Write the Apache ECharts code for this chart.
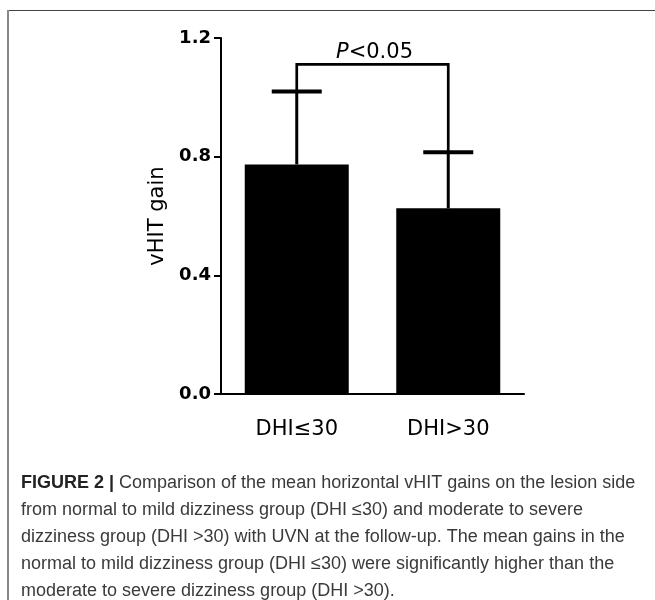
<!DOCTYPE html>
<html>
<head>
<meta charset="utf-8">
<script src="https://cdn.jsdelivr.net/npm/echarts@6/dist/echarts.min.js"></script>
<style>
html,body{margin:0;padding:0;background:#fff;}
#chart{width:655px;height:600px;}
</style>
</head>
<body>
<div id="chart"></div>
<script>
var categories = ['DHI≤30', 'DHI>30'];
var meanGain = [0.774, 0.626];
var errorTop = [1.02, 0.815];
var bracketLevel = 1.111;
var pLabel = 'P<0.05';
var yTicks = [0.0, 0.4, 0.8, 1.2];
var captionLines = [
  'from normal to mild dizziness group (DHI ≤30) and moderate to severe',
  'dizziness group (DHI >30) with UVN at the follow-up. The mean gains in the',
  'normal to mild dizziness group (DHI ≤30) were significantly higher than the',
  'moderate to severe dizziness group (DHI >30).'
];
var captionHead = 'FIGURE 2 |';
var captionFirst = ' Comparison of the mean horizontal vHIT gains on the lesion side';

var chart = echarts.init(document.getElementById('chart'), null, {renderer: 'canvas'});

var capFont = '"Liberation Sans Narrow", "Liberation Sans", Arial, sans-serif';
var dvs = '"DejaVu Sans", Verdana, sans-serif';
var graphics = [
  {type: 'line', shape: {x1: 7, y1: 10.5, x2: 655, y2: 10.5}, style: {stroke: '#444', lineWidth: 1}, silent: true},
  {type: 'line', shape: {x1: 8, y1: 10, x2: 8, y2: 600}, style: {stroke: '#888', lineWidth: 2}, silent: true},
  {type: 'text', left: 21, top: 474, style: {
    text: '{b|' + captionHead + '}{n|' + captionFirst + '}',
    rich: {
      b: {fontFamily: capFont, fontWeight: 'bold', fontSize: 18, fill: '#222'},
      n: {fontFamily: capFont, fontSize: 18, fill: '#3a3a3a'}
    }
  }}
];
captionLines.forEach(function (t, i) {
  graphics.push({type: 'text', left: 21, top: 501 + i * 27, style: {
    text: t, fontFamily: capFont, fontSize: 18, fill: '#3a3a3a'
  }});
});

chart.setOption({
  animation: false,
  backgroundColor: '#fff',
  grid: {left: 221, right: 131, top: 38, bottom: 206, containLabel: false},
  xAxis: {
    type: 'category',
    data: categories,
    axisLine: {lineStyle: {color: '#000', width: 2}},
    axisTick: {alignWithLabel: true, length: 9, lineStyle: {color: '#000', width: 2}},
    axisLabel: {color: '#000', fontSize: 21, fontFamily: dvs, margin: 25}
  },
  yAxis: {
    type: 'value', min: 0, max: 1.2, interval: 0.4,
    name: 'vHIT gain', nameLocation: 'middle', nameRotate: 90, nameGap: 53,
    nameTextStyle: {color: '#000', fontSize: 21, fontFamily: dvs},
    axisLine: {show: true, lineStyle: {color: '#000', width: 2}},
    axisTick: {show: true, length: 7, lineStyle: {color: '#000', width: 2}},
    splitLine: {show: false},
    axisLabel: {color: '#000', fontSize: 18, fontWeight: 'bold', fontFamily: dvs, margin: 10,
      formatter: function (v) { return v.toFixed(1); }}
  },
  series: [
    {type: 'bar', data: meanGain, barWidth: 104, itemStyle: {color: '#000'}, z: 2},
    {
      type: 'custom', z: 3,
      data: categories.map(function (c, i) { return [i, meanGain[i], errorTop[i]]; }),
      renderItem: function (params, api) {
        var x = api.value(0);
        var p0 = api.coord([x, api.value(1)]);
        var p1 = api.coord([x, api.value(2)]);
        var cw = 25;
        return {type: 'group', children: [
          {type: 'line', shape: {x1: p0[0], y1: p0[1], x2: p1[0], y2: p1[1]}, style: {stroke: '#000', lineWidth: 3}},
          {type: 'line', shape: {x1: p1[0] - cw, y1: p1[1], x2: p1[0] + cw, y2: p1[1]}, style: {stroke: '#000', lineWidth: 4}}
        ]};
      }
    },
    {
      type: 'custom', z: 3,
      data: [[0, errorTop[0], 1, errorTop[1], bracketLevel]],
      renderItem: function (params, api) {
        var a = api.coord([api.value(0), api.value(1)]);
        var b = api.coord([api.value(2), api.value(3)]);
        var ta = api.coord([api.value(0), api.value(4)]);
        var tb = api.coord([api.value(2), api.value(4)]);
        return {type: 'group', children: [
          {type: 'polyline', shape: {points: [a, ta, tb, b]}, style: {stroke: '#000', lineWidth: 2.7, fill: null}},
          {type: 'text', style: {
            text: '{i|P}{n|<0.05}', x: (ta[0] + tb[0]) / 2 + 2, y: ta[1] - 1, align: 'center', verticalAlign: 'bottom',
            rich: {
              i: {fontStyle: 'italic', fontSize: 21, fontFamily: dvs, fill: '#000'},
              n: {fontSize: 21, fontFamily: dvs, fill: '#000'}
            }
          }}
        ]};
      }
    }
  ],
  graphic: graphics
});
</script>
</body>
</html>
